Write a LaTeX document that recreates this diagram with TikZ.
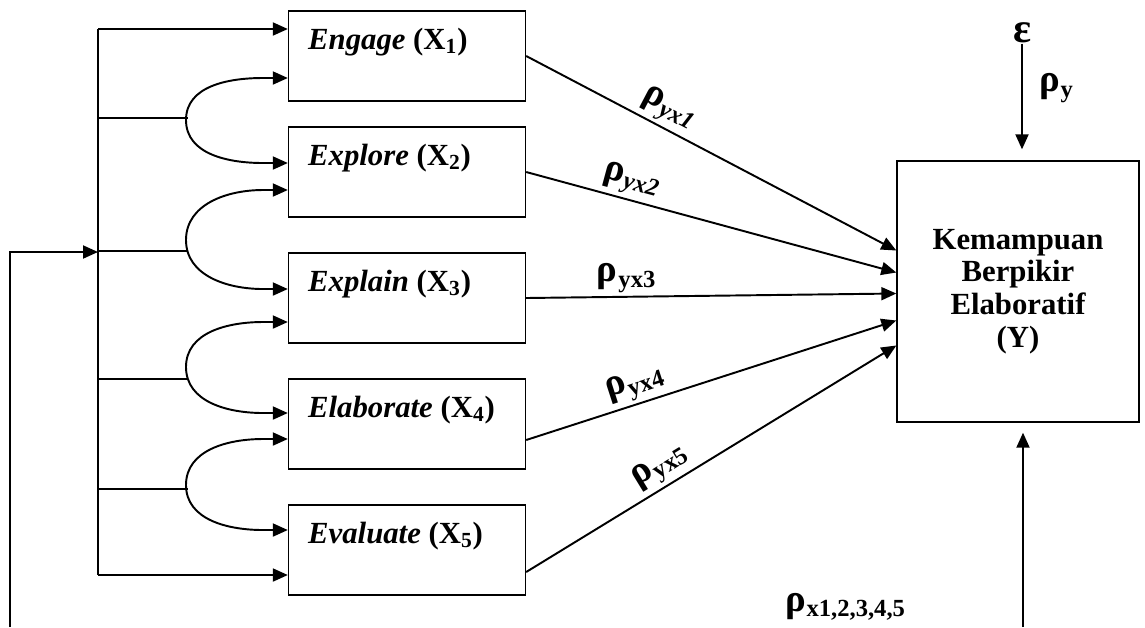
\documentclass[tikz,border=0pt]{standalone}
\usepackage{fontspec}
\setmainfont{Liberation Serif}
\usetikzlibrary{arrows.meta,calc,positioning}
\newcommand{\pcoef}[1]{{\fontsize{22}{22}\selectfont ρ}\kern0.5pt\raisebox{-3pt}{\fontsize{14}{14}\selectfont #1}}
\tikzset{
  >={Triangle[length=3mm,width=2.6mm]},
  box/.style={draw,line width=0.8pt,minimum width=4.74cm,minimum height=1.8cm,inner sep=0pt},
  boxtext/.style={anchor=base west,inner sep=0pt,font=\fontsize{17.5}{19}\selectfont\bfseries},
  conn/.style={line width=1.1pt},
  coef/.style={font=\bfseries,inner sep=2pt},
}
\begin{document}
\begin{tikzpicture}[x=0.02cm,y=-0.02cm]
  \useasboundingbox (0,0) rectangle (1145,627);
  % predictor boxes
  \foreach \i/\t/\c in {1/Engage/56,2/Explore/172,3/Explain/298,4/Elaborate/424,5/Evaluate/550}{
    \node[box] (x\i) at (407,\c) {};
    \node[boxtext] (t\i) at ($(x\i.north west)+(20,39)$) {\textit{\t} (X\textsubscript{\i})};
  }
  % outcome box
  \node[box,minimum width=4.84cm,minimum height=5.22cm,text width=4.6cm,align=center,
    font=\fontsize{17.5}{18.7}\selectfont\bfseries] (y) at (1018,291.5)
    {Kemampuan\\Berpikir\\Elaboratif\\(Y)};
  \node[inner sep=0pt,font=\fontsize{24}{24}\selectfont\bfseries] (eps) at (1022,33) {ε};
  \node[coef] (ry) at (1056,88) {\pcoef{y}};
  \node[coef] (rx) at (845,607) {\pcoef{x1,2,3,4,5}};
  \coordinate (rb) at (1023,627);
  \coordinate (lb) at (10,627);
  % bus on the left
  \draw[conn] (98,29) -- (98,575);
  \draw[conn,->] (lb) -- (10,252) -- (98,252);
  \draw[conn,->] (98,29) -- (x1.west |- 0,29);
  \draw[conn,->] (98,575) -- (x5.west |- 0,575);
  % correlations
  \foreach \u/\l/\p/\q/\m/\s in {x1/x2/78/163/120/118,x2/x3/190/289/240/251,x3/x4/322/413/367/379,x4/x5/439/530/485/489}{
    \draw[conn,<->] (\u.west |- 0,\p) -- (263,\p) to[out=180,in=90] (186,\m)
      to[out=-90,in=180] (263,\q) -- (\l.west |- 0,\q);
    \draw[conn] (98,\s) -- (188,\s);
  }
  % paths to Y
  \draw[conn,->] (x1.east) -- ($(y.west)+(0,-41)$) node[coef,sloped,above,pos=0.36] {\pcoef{\textit{yx1}}};
  \draw[conn,->] (x2.east) -- ($(y.west)+(0,-19)$) node[coef,sloped,above,pos=0.27] {\pcoef{\textit{yx2}}};
  \draw[conn,->] (x3.east) -- ($(y.west)+(0,2)$) node[coef,above,pos=0.27] {\pcoef{yx3}};
  \draw[conn,->] ($(x4.east)+(0,16)$) -- ($(y.west)+(0,29)$) node[coef,sloped,above,pos=0.31] {\pcoef{yx4}};
  \draw[conn,->] ($(x5.east)+(0,22)$) -- ($(y.west)+(0,54)$) node[coef,sloped,above,pos=0.39] {\pcoef{yx5}};
  % residual and bottom arrow
  \draw[conn,->,shorten >=0.22cm] (eps) -- (eps |- y.north);
  \draw[conn,->,shorten >=0.2cm] (rb) -- (rb |- y.south);
\end{tikzpicture}
\end{document}
